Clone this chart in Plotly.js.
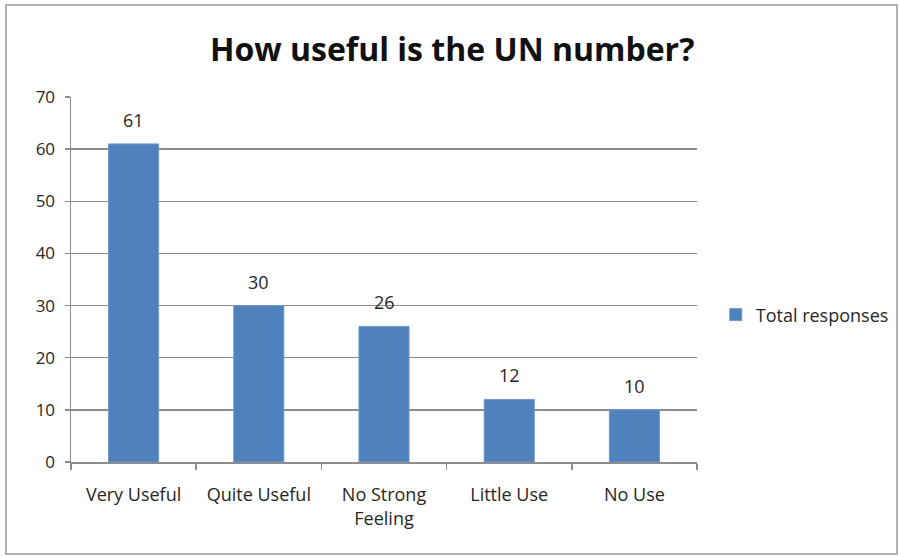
<!DOCTYPE html>
<html>
<head>
<meta charset="utf-8">
<script src="https://cdn.plot.ly/plotly-3.0.1.min.js"></script>
<style>
  html, body { margin: 0; padding: 0; background: #fff; }
  #chart { width: 899px; height: 556px; }
</style>
</head>
<body>
<div id="chart"></div>
<script>
// Survey answers: how useful respondents find the UN number
const categories = ["Very Useful", "Quite Useful", "No Strong<br>Feeling", "Little Use", "No Use"];
const totalResponses = [61, 30, 26, 12, 10];
const seriesName = "Total responses";
const yTicks = [0, 10, 20, 30, 40, 50, 60, 70];

const FONT = "'Open Sans', Lato, 'Liberation Sans', sans-serif";
const GRID = "#8c8c8c";
const TEXT = "#262626";

const trace = {
  type: "bar",
  x: categories,
  y: totalResponses,
  name: seriesName,
  marker: { color: "#4f81bd", line: { color: "#6f97c9", width: 1 } },
  hoverinfo: "skip",
  showlegend: true
};

// value labels above each bar
const valueLabels = categories.map((c, i) => ({
  x: c,
  y: totalResponses[i],
  xref: "x",
  yref: "y",
  text: String(totalResponses[i]),
  showarrow: false,
  yanchor: "bottom",
  yshift: 10,
  font: { family: FONT, size: 18, color: TEXT }
}));

const layout = {
  width: 899,
  height: 556,
  margin: { l: 71, r: 202, t: 97, b: 94, autoexpand: false },
  paper_bgcolor: "#fff",
  plot_bgcolor: "#fff",
  bargap: 0.6,
  title: {
    text: "<b>How useful is the UN number?</b>",
    font: { family: FONT, size: 32, color: "#111" },
    x: 0.503,
    xanchor: "center",
    y: 0.91,
    yanchor: "middle"
  },
  xaxis: {
    showgrid: false,
    showline: true,
    linecolor: GRID,
    linewidth: 1.5,
    ticks: "outside",
    tickson: "boundaries",
    ticklen: 6,
    tickcolor: GRID,
    tickwidth: 1.5,
    ticklabelstandoff: 16,
    tickfont: { family: FONT, size: 18, color: TEXT },
    fixedrange: true
  },
  yaxis: {
    range: [0, 70],
    tickvals: yTicks,
    ticktext: yTicks.map(String),
    showgrid: true,
    gridcolor: GRID,
    gridwidth: 1.3,
    zeroline: false,
    showline: true,
    linecolor: GRID,
    linewidth: 1.5,
    ticks: "outside",
    ticklen: 5,
    tickcolor: GRID,
    tickwidth: 1.5,
    ticklabelstandoff: 6,
    tickfont: { family: FONT, size: 17, color: TEXT },
    fixedrange: true
  },
  legend: {
    x: 1.03,
    xanchor: "left",
    y: 0.403,
    yanchor: "middle",
    font: { family: FONT, size: 18, color: TEXT },
    itemwidth: 30,
    bgcolor: "rgba(0,0,0,0)"
  },
  annotations: valueLabels,
  shapes: [{
    // frame around the whole chart
    type: "rect",
    xref: "paper",
    yref: "paper",
    x0: (6 - 71) / 626,
    x1: (897 - 71) / 626,
    y0: (462 - 554) / 365,
    y1: (462 - 5) / 365,
    line: { color: "#b0b0b0", width: 2 },
    fillcolor: "rgba(0,0,0,0)",
    layer: "below"
  }]
};

Plotly.newPlot("chart", [trace], layout, { displayModeBar: false, staticPlot: true });
</script>
</body>
</html>
